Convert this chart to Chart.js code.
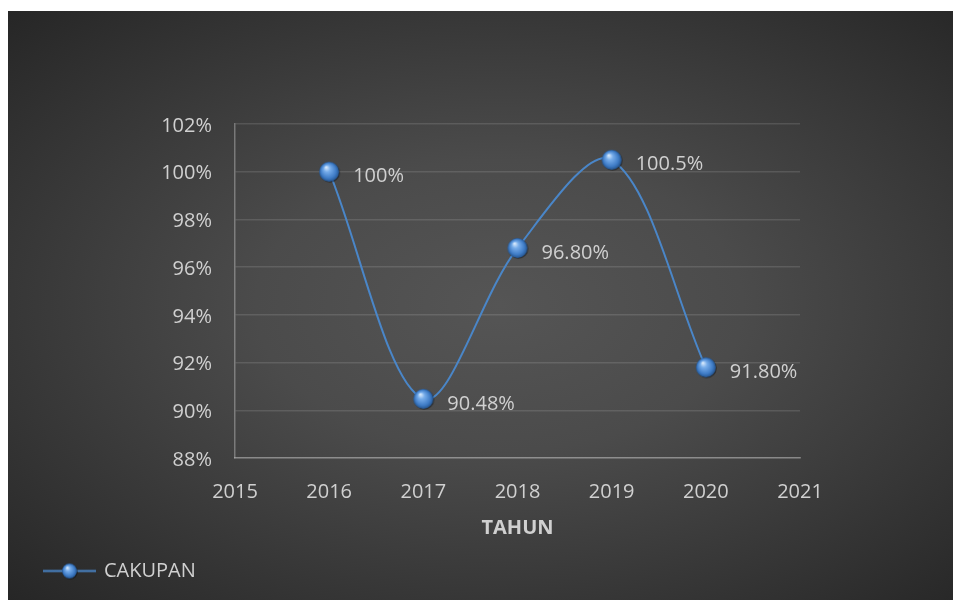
<!DOCTYPE html>
<html>
<head>
<meta charset="utf-8">
<script src="https://cdn.jsdelivr.net/npm/chart.js@4"></script>
<style>
  html, body { margin: 0; padding: 0; background: #fff; }
  #wrap {
    position: absolute; left: 8px; top: 11px; width: 945px; height: 589px;
    background: radial-gradient(ellipse farthest-corner at 52% 50%, #555555 0%, #4b4b4b 35%, #262626 100%);
  }
</style>
</head>
<body>
<div id="wrap"><canvas id="myChart" width="945" height="589"></canvas></div>
<script>
const years = [2016, 2017, 2018, 2019, 2020];
const cakupan = [100, 90.48, 96.8, 100.5, 91.8];
const valueLabels = ['100%', '90.48%', '96.80%', '100.5%', '91.80%'];
const yTicks = [88, 90, 92, 94, 96, 98, 100, 102];
const xTicks = [2015, 2016, 2017, 2018, 2019, 2020, 2021];

const textColor = '#d0d0d0';
const lineColor = '#4a86c8';
const fontFamily = "'Open Sans', sans-serif";

// blue ball used as point marker
const makeBall = (r, lineWidth) => {
  const c = document.createElement('canvas');
  const w = lineWidth || (r * 2 + 4);
  c.width = w; c.height = r * 2 + 4;
  const g = c.getContext('2d');
  const cx = w / 2, cy = c.height / 2;
  if (lineWidth) {
    g.strokeStyle = lineColor; g.lineWidth = 2;
    g.beginPath(); g.moveTo(0, cy); g.lineTo(w, cy); g.stroke();
  }
  g.beginPath(); g.arc(cx + 0.8, cy + 0.8, r, 0, Math.PI * 2);
  g.fillStyle = 'rgba(0,0,0,0.45)'; g.fill();
  const grad = g.createRadialGradient(cx - r * 0.3, cy - r * 0.45, r * 0.05, cx, cy, r);
  grad.addColorStop(0, '#d6e8fb');
  grad.addColorStop(0.3, '#76acea');
  grad.addColorStop(0.75, '#3f7cc6');
  grad.addColorStop(1, '#24548f');
  g.beginPath(); g.arc(cx, cy, r, 0, Math.PI * 2);
  g.fillStyle = grad; g.fill();
  return c;
};

const ball = makeBall(10);
const legendBall = makeBall(7.5, 53);

const valueLabelPlugin = {
  id: 'valueLabels',
  afterDatasetsDraw(chart) {
    const ctx = chart.ctx;
    const meta = chart.getDatasetMeta(0);
    ctx.save();
    ctx.font = '20px ' + fontFamily;
    ctx.fillStyle = textColor;
    ctx.textAlign = 'left';
    ctx.textBaseline = 'middle';
    meta.data.forEach((pt, i) => {
      ctx.fillText(valueLabels[i], pt.x + 24, pt.y + 5);
    });
    ctx.restore();
  }
};

const ctx = document.getElementById('myChart').getContext('2d');

new Chart(ctx, {
  type: 'line',
  data: {
    datasets: [{
      label: 'CAKUPAN',
      data: years.map((y, i) => ({ x: y, y: cakupan[i] })),
      borderColor: lineColor,
      borderWidth: 2,
      tension: 0.33,
      pointStyle: ball,
      pointRadius: 10,
      pointHoverRadius: 10
    }]
  },
  options: {
    responsive: false,
    animation: false,
    layout: { padding: { left: 27, right: 153, top: 113, bottom: 9 } },
    plugins: {
      tooltip: { enabled: false },
      legend: {
        position: 'bottom',
        align: 'start',
        labels: {
          usePointStyle: true,
          pointStyle: legendBall,
          pointStyleWidth: 49,
          padding: 10,
          color: textColor,
          font: { family: fontFamily, size: 20 }
        }
      }
    },
    scales: {
      x: {
        type: 'linear',
        min: 2015,
        max: 2021,
        afterBuildTicks: s => { s.ticks = xTicks.map(v => ({ value: v })); },
        afterFit: s => { s.height = s.chart.height - 447 - s.chart.legend.height - 9; },
        grid: { display: false, drawTicks: false },
        border: { display: true, color: 'rgba(255,255,255,0.3)', width: 1.5 },
        ticks: {
          color: textColor,
          padding: 22,
          font: { family: fontFamily, size: 20 },
          callback: v => String(v)
        },
        title: {
          display: true,
          text: 'TAHUN',
          color: textColor,
          padding: { top: 4, bottom: 11 },
          font: { family: fontFamily, size: 20, weight: 'bold' }
        }
      },
      y: {
        min: 88,
        max: 102,
        afterBuildTicks: s => { s.ticks = yTicks.map(v => ({ value: v })); },
        afterFit: s => { s.width = 200; },
        grid: { color: 'rgba(255,255,255,0.12)', lineWidth: 1.5, drawTicks: false },
        border: { display: true, color: 'rgba(255,255,255,0.3)', width: 1.5 },
        ticks: {
          color: textColor,
          padding: 23,
          labelOffset: 2,
          font: { family: fontFamily, size: 20 },
          callback: v => v + '%'
        }
      }
    }
  },
  plugins: [valueLabelPlugin]
});
</script>
</body>
</html>
